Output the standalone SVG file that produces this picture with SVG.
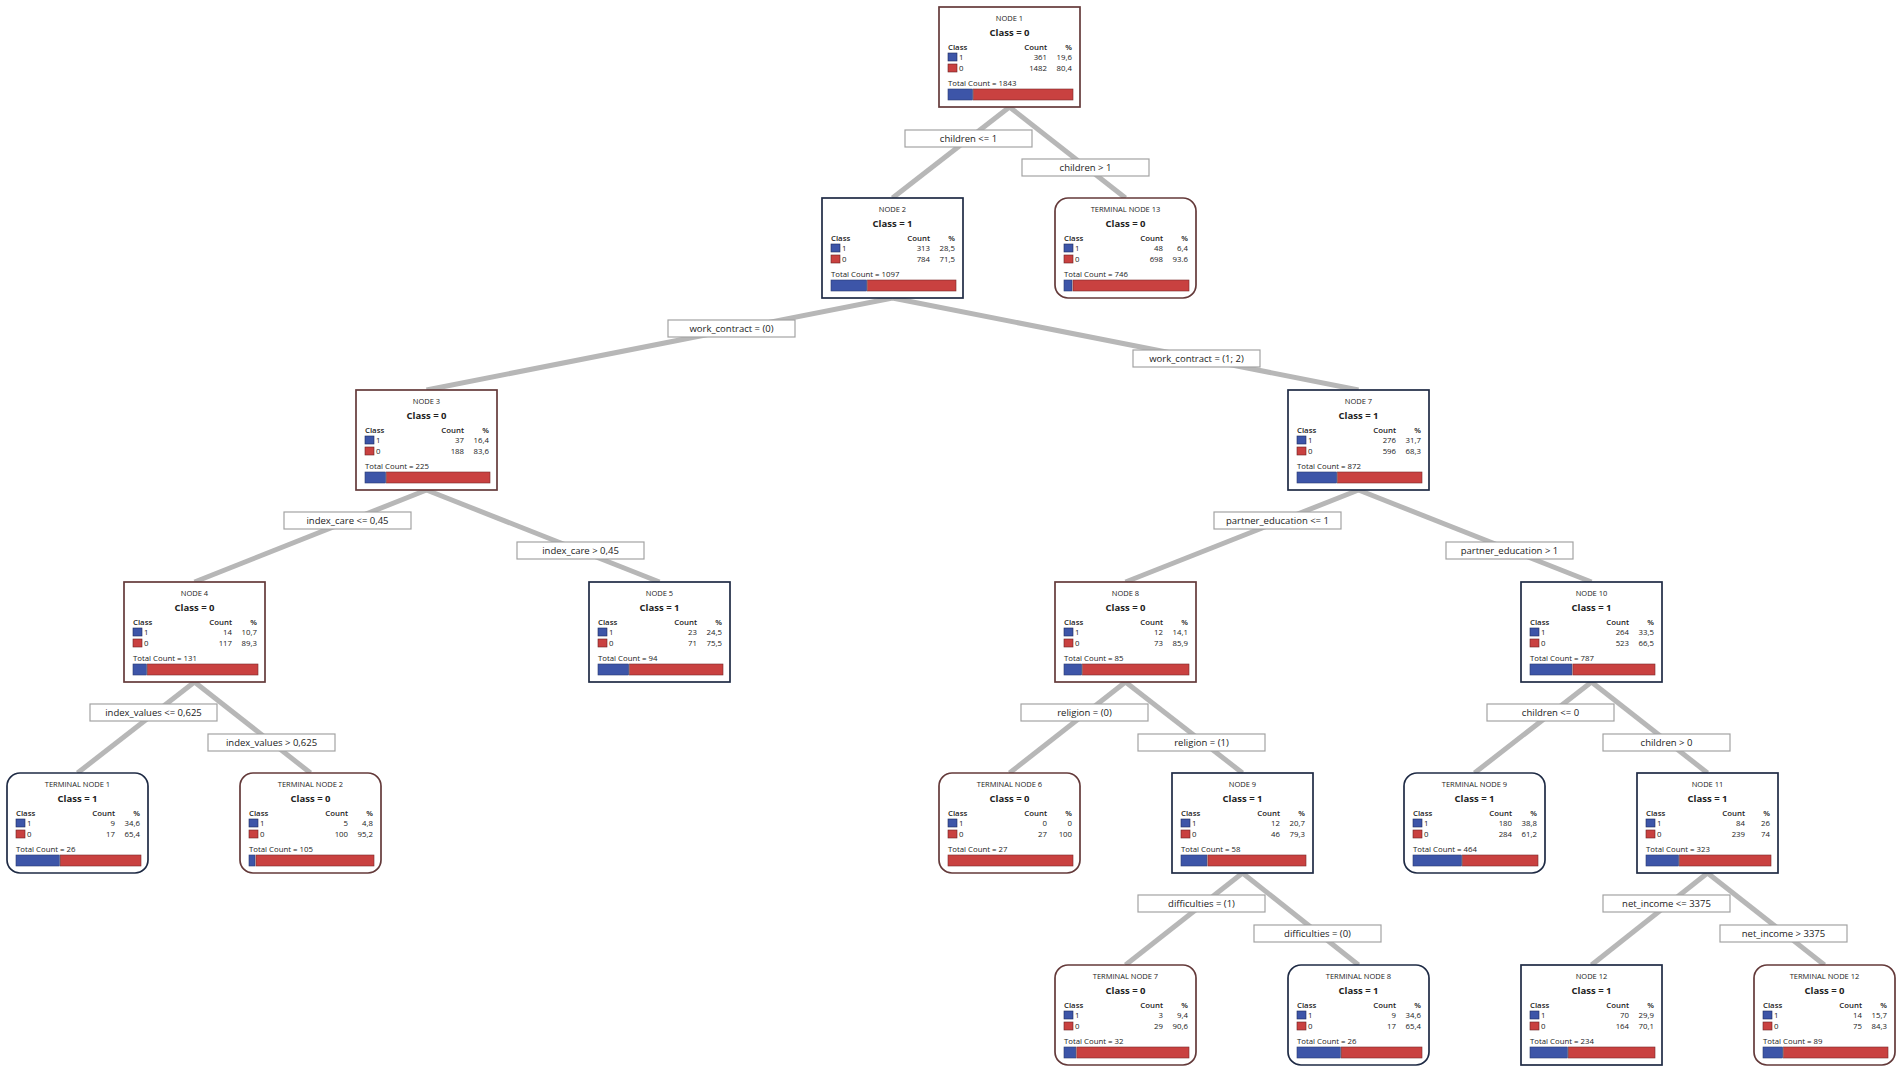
<svg xmlns="http://www.w3.org/2000/svg" width="1902" height="1072" viewBox="0 0 1902 1072">
<style>
text{font-family:"Open Sans","Noto Sans","DejaVu Sans",sans-serif;fill:#222}
.box{fill:#fff;stroke-width:1.7}
.c0{stroke:#643a3a}
.c1{stroke:#1f2b45}
.nm{font-size:7.5px;text-anchor:middle}
.cl{font-size:9.5px;font-weight:700;text-anchor:middle}
.t{font-size:7.8px}
.h{font-weight:600}
.r{text-anchor:end}
.sb{fill:#3d55a8;stroke:#1d2a5a;stroke-width:0.6}
.sr{fill:#c94140;stroke:#6a2020;stroke-width:0.6}
.bb{fill:#3d55a8;stroke:#2a3a70;stroke-width:0.6}
.br{fill:#c94140;stroke:#7a2a2a;stroke-width:0.6}
.ln{stroke:#b7b7b7;stroke-width:5;stroke-linecap:butt}
.lb{fill:#fff;stroke:#a3a3a3;stroke-width:1.2}
.lt{font-size:9.5px;text-anchor:middle}
</style>
<g id="connectors">
<line class="ln" x1="1009.5" y1="107" x2="892.5" y2="198"/>
<line class="ln" x1="1009.5" y1="107" x2="1125.5" y2="198"/>
<line class="ln" x1="892.5" y1="298" x2="426.5" y2="390"/>
<line class="ln" x1="892.5" y1="298" x2="1358.5" y2="390"/>
<line class="ln" x1="426.5" y1="490" x2="194.5" y2="582"/>
<line class="ln" x1="426.5" y1="490" x2="659.5" y2="582"/>
<line class="ln" x1="1358.5" y1="490" x2="1125.5" y2="582"/>
<line class="ln" x1="1358.5" y1="490" x2="1591.5" y2="582"/>
<line class="ln" x1="194.5" y1="682" x2="77.5" y2="773"/>
<line class="ln" x1="194.5" y1="682" x2="310.5" y2="773"/>
<line class="ln" x1="1125.5" y1="682" x2="1009.5" y2="773"/>
<line class="ln" x1="1125.5" y1="682" x2="1242.5" y2="773"/>
<line class="ln" x1="1591.5" y1="682" x2="1474.5" y2="773"/>
<line class="ln" x1="1591.5" y1="682" x2="1707.5" y2="773"/>
<line class="ln" x1="1242.5" y1="873" x2="1125.5" y2="965"/>
<line class="ln" x1="1242.5" y1="873" x2="1358.5" y2="965"/>
<line class="ln" x1="1707.5" y1="873" x2="1591.5" y2="965"/>
<line class="ln" x1="1707.5" y1="873" x2="1824.5" y2="965"/>

<rect class="lb" x="905" y="130" width="127" height="17"/><text class="lt" x="968.5" y="142">children &lt;= 1</text>
<rect class="lb" x="1022" y="159" width="127" height="17"/><text class="lt" x="1085.5" y="171">children &gt; 1</text>
<rect class="lb" x="668" y="320" width="127" height="17"/><text class="lt" x="731.5" y="332">work_contract = (0)</text>
<rect class="lb" x="1133" y="350" width="127" height="17"/><text class="lt" x="1196.5" y="362">work_contract = (1; 2)</text>
<rect class="lb" x="284" y="512" width="127" height="17"/><text class="lt" x="347.5" y="524">index_care &lt;= 0,45</text>
<rect class="lb" x="517" y="542" width="127" height="17"/><text class="lt" x="580.5" y="554">index_care &gt; 0,45</text>
<rect class="lb" x="1214" y="512" width="127" height="17"/><text class="lt" x="1277.5" y="524">partner_education &lt;= 1</text>
<rect class="lb" x="1446" y="542" width="127" height="17"/><text class="lt" x="1509.5" y="554">partner_education &gt; 1</text>
<rect class="lb" x="90" y="704" width="127" height="17"/><text class="lt" x="153.5" y="716">index_values &lt;= 0,625</text>
<rect class="lb" x="208" y="734" width="127" height="17"/><text class="lt" x="271.5" y="746">index_values &gt; 0,625</text>
<rect class="lb" x="1021" y="704" width="127" height="17"/><text class="lt" x="1084.5" y="716">religion = (0)</text>
<rect class="lb" x="1138" y="734" width="127" height="17"/><text class="lt" x="1201.5" y="746">religion = (1)</text>
<rect class="lb" x="1487" y="704" width="127" height="17"/><text class="lt" x="1550.5" y="716">children &lt;= 0</text>
<rect class="lb" x="1603" y="734" width="127" height="17"/><text class="lt" x="1666.5" y="746">children &gt; 0</text>
<rect class="lb" x="1138" y="895" width="127" height="17"/><text class="lt" x="1201.5" y="907">difficulties = (1)</text>
<rect class="lb" x="1254" y="925" width="127" height="17"/><text class="lt" x="1317.5" y="937">difficulties = (0)</text>
<rect class="lb" x="1603" y="895" width="127" height="17"/><text class="lt" x="1666.5" y="907">net_income &lt;= 3375</text>
<rect class="lb" x="1720" y="925" width="127" height="17"/><text class="lt" x="1783.5" y="937">net_income &gt; 3375</text>
</g>

<g id="node1" transform="translate(939,7)">
<rect class="box c0" width="141" height="100"/>
<text class="nm" x="70.5" y="14">NODE 1</text><text class="cl" x="70.5" y="29">Class = 0</text>
<text class="t h" x="9" y="43">Class</text><text class="t h r" x="108" y="43">Count</text><text class="t h r" x="133" y="43">%</text>
<rect class="sb" x="9" y="46" width="9" height="8"/><text class="t" x="20" y="53">1</text><text class="t r" x="108" y="53">361</text><text class="t r" x="133" y="53">19,6</text>
<rect class="sr" x="9" y="57" width="9" height="8"/><text class="t" x="20" y="64">0</text><text class="t r" x="108" y="64">1482</text><text class="t r" x="133" y="64">80,4</text>
<text class="t" x="9" y="79">Total Count = 1843</text>
<rect class="bb" x="9" y="82" width="24.5" height="11"/><rect class="br" x="34.5" y="82" width="99.5" height="11"/>
</g>

<g id="node2" transform="translate(822,198)">
<rect class="box c1" width="141" height="100"/>
<text class="nm" x="70.5" y="14">NODE 2</text><text class="cl" x="70.5" y="29">Class = 1</text>
<text class="t h" x="9" y="43">Class</text><text class="t h r" x="108" y="43">Count</text><text class="t h r" x="133" y="43">%</text>
<rect class="sb" x="9" y="46" width="9" height="8"/><text class="t" x="20" y="53">1</text><text class="t r" x="108" y="53">313</text><text class="t r" x="133" y="53">28,5</text>
<rect class="sr" x="9" y="57" width="9" height="8"/><text class="t" x="20" y="64">0</text><text class="t r" x="108" y="64">784</text><text class="t r" x="133" y="64">71,5</text>
<text class="t" x="9" y="79">Total Count = 1097</text>
<rect class="bb" x="9" y="82" width="35.6" height="11"/><rect class="br" x="45.6" y="82" width="88.4" height="11"/>
</g>

<g id="terminal13" transform="translate(1055,198)">
<rect class="box c0" width="141" height="100" rx="13"/>
<text class="nm" x="70.5" y="14">TERMINAL NODE 13</text><text class="cl" x="70.5" y="29">Class = 0</text>
<text class="t h" x="9" y="43">Class</text><text class="t h r" x="108" y="43">Count</text><text class="t h r" x="133" y="43">%</text>
<rect class="sb" x="9" y="46" width="9" height="8"/><text class="t" x="20" y="53">1</text><text class="t r" x="108" y="53">48</text><text class="t r" x="133" y="53">6,4</text>
<rect class="sr" x="9" y="57" width="9" height="8"/><text class="t" x="20" y="64">0</text><text class="t r" x="108" y="64">698</text><text class="t r" x="133" y="64">93.6</text>
<text class="t" x="9" y="79">Total Count = 746</text>
<rect class="bb" x="9" y="82" width="8" height="11"/><rect class="br" x="18" y="82" width="116" height="11"/>
</g>

<g id="node3" transform="translate(356,390)">
<rect class="box c0" width="141" height="100"/>
<text class="nm" x="70.5" y="14">NODE 3</text><text class="cl" x="70.5" y="29">Class = 0</text>
<text class="t h" x="9" y="43">Class</text><text class="t h r" x="108" y="43">Count</text><text class="t h r" x="133" y="43">%</text>
<rect class="sb" x="9" y="46" width="9" height="8"/><text class="t" x="20" y="53">1</text><text class="t r" x="108" y="53">37</text><text class="t r" x="133" y="53">16,4</text>
<rect class="sr" x="9" y="57" width="9" height="8"/><text class="t" x="20" y="64">0</text><text class="t r" x="108" y="64">188</text><text class="t r" x="133" y="64">83,6</text>
<text class="t" x="9" y="79">Total Count = 225</text>
<rect class="bb" x="9" y="82" width="20.5" height="11"/><rect class="br" x="30.5" y="82" width="103.5" height="11"/>
</g>

<g id="node7" transform="translate(1288,390)">
<rect class="box c1" width="141" height="100"/>
<text class="nm" x="70.5" y="14">NODE 7</text><text class="cl" x="70.5" y="29">Class = 1</text>
<text class="t h" x="9" y="43">Class</text><text class="t h r" x="108" y="43">Count</text><text class="t h r" x="133" y="43">%</text>
<rect class="sb" x="9" y="46" width="9" height="8"/><text class="t" x="20" y="53">1</text><text class="t r" x="108" y="53">276</text><text class="t r" x="133" y="53">31,7</text>
<rect class="sr" x="9" y="57" width="9" height="8"/><text class="t" x="20" y="64">0</text><text class="t r" x="108" y="64">596</text><text class="t r" x="133" y="64">68,3</text>
<text class="t" x="9" y="79">Total Count = 872</text>
<rect class="bb" x="9" y="82" width="39.6" height="11"/><rect class="br" x="49.6" y="82" width="84.4" height="11"/>
</g>

<g id="node4" transform="translate(124,582)">
<rect class="box c0" width="141" height="100"/>
<text class="nm" x="70.5" y="14">NODE 4</text><text class="cl" x="70.5" y="29">Class = 0</text>
<text class="t h" x="9" y="43">Class</text><text class="t h r" x="108" y="43">Count</text><text class="t h r" x="133" y="43">%</text>
<rect class="sb" x="9" y="46" width="9" height="8"/><text class="t" x="20" y="53">1</text><text class="t r" x="108" y="53">14</text><text class="t r" x="133" y="53">10,7</text>
<rect class="sr" x="9" y="57" width="9" height="8"/><text class="t" x="20" y="64">0</text><text class="t r" x="108" y="64">117</text><text class="t r" x="133" y="64">89,3</text>
<text class="t" x="9" y="79">Total Count = 131</text>
<rect class="bb" x="9" y="82" width="13.4" height="11"/><rect class="br" x="23.4" y="82" width="110.6" height="11"/>
</g>

<g id="node5" transform="translate(589,582)">
<rect class="box c1" width="141" height="100"/>
<text class="nm" x="70.5" y="14">NODE 5</text><text class="cl" x="70.5" y="29">Class = 1</text>
<text class="t h" x="9" y="43">Class</text><text class="t h r" x="108" y="43">Count</text><text class="t h r" x="133" y="43">%</text>
<rect class="sb" x="9" y="46" width="9" height="8"/><text class="t" x="20" y="53">1</text><text class="t r" x="108" y="53">23</text><text class="t r" x="133" y="53">24,5</text>
<rect class="sr" x="9" y="57" width="9" height="8"/><text class="t" x="20" y="64">0</text><text class="t r" x="108" y="64">71</text><text class="t r" x="133" y="64">75,5</text>
<text class="t" x="9" y="79">Total Count = 94</text>
<rect class="bb" x="9" y="82" width="30.6" height="11"/><rect class="br" x="40.6" y="82" width="93.4" height="11"/>
</g>

<g id="node8" transform="translate(1055,582)">
<rect class="box c0" width="141" height="100"/>
<text class="nm" x="70.5" y="14">NODE 8</text><text class="cl" x="70.5" y="29">Class = 0</text>
<text class="t h" x="9" y="43">Class</text><text class="t h r" x="108" y="43">Count</text><text class="t h r" x="133" y="43">%</text>
<rect class="sb" x="9" y="46" width="9" height="8"/><text class="t" x="20" y="53">1</text><text class="t r" x="108" y="53">12</text><text class="t r" x="133" y="53">14,1</text>
<rect class="sr" x="9" y="57" width="9" height="8"/><text class="t" x="20" y="64">0</text><text class="t r" x="108" y="64">73</text><text class="t r" x="133" y="64">85,9</text>
<text class="t" x="9" y="79">Total Count = 85</text>
<rect class="bb" x="9" y="82" width="17.6" height="11"/><rect class="br" x="27.6" y="82" width="106.4" height="11"/>
</g>

<g id="node10" transform="translate(1521,582)">
<rect class="box c1" width="141" height="100"/>
<text class="nm" x="70.5" y="14">NODE 10</text><text class="cl" x="70.5" y="29">Class = 1</text>
<text class="t h" x="9" y="43">Class</text><text class="t h r" x="108" y="43">Count</text><text class="t h r" x="133" y="43">%</text>
<rect class="sb" x="9" y="46" width="9" height="8"/><text class="t" x="20" y="53">1</text><text class="t r" x="108" y="53">264</text><text class="t r" x="133" y="53">33,5</text>
<rect class="sr" x="9" y="57" width="9" height="8"/><text class="t" x="20" y="64">0</text><text class="t r" x="108" y="64">523</text><text class="t r" x="133" y="64">66,5</text>
<text class="t" x="9" y="79">Total Count = 787</text>
<rect class="bb" x="9" y="82" width="41.9" height="11"/><rect class="br" x="51.9" y="82" width="82.1" height="11"/>
</g>

<g id="terminal1" transform="translate(7,773)">
<rect class="box c1" width="141" height="100" rx="13"/>
<text class="nm" x="70.5" y="14">TERMINAL NODE 1</text><text class="cl" x="70.5" y="29">Class = 1</text>
<text class="t h" x="9" y="43">Class</text><text class="t h r" x="108" y="43">Count</text><text class="t h r" x="133" y="43">%</text>
<rect class="sb" x="9" y="46" width="9" height="8"/><text class="t" x="20" y="53">1</text><text class="t r" x="108" y="53">9</text><text class="t r" x="133" y="53">34,6</text>
<rect class="sr" x="9" y="57" width="9" height="8"/><text class="t" x="20" y="64">0</text><text class="t r" x="108" y="64">17</text><text class="t r" x="133" y="64">65,4</text>
<text class="t" x="9" y="79">Total Count = 26</text>
<rect class="bb" x="9" y="82" width="43.3" height="11"/><rect class="br" x="53.3" y="82" width="80.7" height="11"/>
</g>

<g id="terminal2" transform="translate(240,773)">
<rect class="box c0" width="141" height="100" rx="13"/>
<text class="nm" x="70.5" y="14">TERMINAL NODE 2</text><text class="cl" x="70.5" y="29">Class = 0</text>
<text class="t h" x="9" y="43">Class</text><text class="t h r" x="108" y="43">Count</text><text class="t h r" x="133" y="43">%</text>
<rect class="sb" x="9" y="46" width="9" height="8"/><text class="t" x="20" y="53">1</text><text class="t r" x="108" y="53">5</text><text class="t r" x="133" y="53">4,8</text>
<rect class="sr" x="9" y="57" width="9" height="8"/><text class="t" x="20" y="64">0</text><text class="t r" x="108" y="64">100</text><text class="t r" x="133" y="64">95,2</text>
<text class="t" x="9" y="79">Total Count = 105</text>
<rect class="bb" x="9" y="82" width="6" height="11"/><rect class="br" x="16" y="82" width="118" height="11"/>
</g>

<g id="terminal6" transform="translate(939,773)">
<rect class="box c0" width="141" height="100" rx="13"/>
<text class="nm" x="70.5" y="14">TERMINAL NODE 6</text><text class="cl" x="70.5" y="29">Class = 0</text>
<text class="t h" x="9" y="43">Class</text><text class="t h r" x="108" y="43">Count</text><text class="t h r" x="133" y="43">%</text>
<rect class="sb" x="9" y="46" width="9" height="8"/><text class="t" x="20" y="53">1</text><text class="t r" x="108" y="53">0</text><text class="t r" x="133" y="53">0</text>
<rect class="sr" x="9" y="57" width="9" height="8"/><text class="t" x="20" y="64">0</text><text class="t r" x="108" y="64">27</text><text class="t r" x="133" y="64">100</text>
<text class="t" x="9" y="79">Total Count = 27</text>
<rect class="br" x="9" y="82" width="125" height="11"/>
</g>

<g id="node9" transform="translate(1172,773)">
<rect class="box c1" width="141" height="100"/>
<text class="nm" x="70.5" y="14">NODE 9</text><text class="cl" x="70.5" y="29">Class = 1</text>
<text class="t h" x="9" y="43">Class</text><text class="t h r" x="108" y="43">Count</text><text class="t h r" x="133" y="43">%</text>
<rect class="sb" x="9" y="46" width="9" height="8"/><text class="t" x="20" y="53">1</text><text class="t r" x="108" y="53">12</text><text class="t r" x="133" y="53">20,7</text>
<rect class="sr" x="9" y="57" width="9" height="8"/><text class="t" x="20" y="64">0</text><text class="t r" x="108" y="64">46</text><text class="t r" x="133" y="64">79,3</text>
<text class="t" x="9" y="79">Total Count = 58</text>
<rect class="bb" x="9" y="82" width="25.9" height="11"/><rect class="br" x="35.9" y="82" width="98.1" height="11"/>
</g>

<g id="terminal9" transform="translate(1404,773)">
<rect class="box c1" width="141" height="100" rx="13"/>
<text class="nm" x="70.5" y="14">TERMINAL NODE 9</text><text class="cl" x="70.5" y="29">Class = 1</text>
<text class="t h" x="9" y="43">Class</text><text class="t h r" x="108" y="43">Count</text><text class="t h r" x="133" y="43">%</text>
<rect class="sb" x="9" y="46" width="9" height="8"/><text class="t" x="20" y="53">1</text><text class="t r" x="108" y="53">180</text><text class="t r" x="133" y="53">38,8</text>
<rect class="sr" x="9" y="57" width="9" height="8"/><text class="t" x="20" y="64">0</text><text class="t r" x="108" y="64">284</text><text class="t r" x="133" y="64">61,2</text>
<text class="t" x="9" y="79">Total Count = 464</text>
<rect class="bb" x="9" y="82" width="48.5" height="11"/><rect class="br" x="58.5" y="82" width="75.5" height="11"/>
</g>

<g id="node11" transform="translate(1637,773)">
<rect class="box c1" width="141" height="100"/>
<text class="nm" x="70.5" y="14">NODE 11</text><text class="cl" x="70.5" y="29">Class = 1</text>
<text class="t h" x="9" y="43">Class</text><text class="t h r" x="108" y="43">Count</text><text class="t h r" x="133" y="43">%</text>
<rect class="sb" x="9" y="46" width="9" height="8"/><text class="t" x="20" y="53">1</text><text class="t r" x="108" y="53">84</text><text class="t r" x="133" y="53">26</text>
<rect class="sr" x="9" y="57" width="9" height="8"/><text class="t" x="20" y="64">0</text><text class="t r" x="108" y="64">239</text><text class="t r" x="133" y="64">74</text>
<text class="t" x="9" y="79">Total Count = 323</text>
<rect class="bb" x="9" y="82" width="32.5" height="11"/><rect class="br" x="42.5" y="82" width="91.5" height="11"/>
</g>

<g id="terminal7" transform="translate(1055,965)">
<rect class="box c0" width="141" height="100" rx="13"/>
<text class="nm" x="70.5" y="14">TERMINAL NODE 7</text><text class="cl" x="70.5" y="29">Class = 0</text>
<text class="t h" x="9" y="43">Class</text><text class="t h r" x="108" y="43">Count</text><text class="t h r" x="133" y="43">%</text>
<rect class="sb" x="9" y="46" width="9" height="8"/><text class="t" x="20" y="53">1</text><text class="t r" x="108" y="53">3</text><text class="t r" x="133" y="53">9,4</text>
<rect class="sr" x="9" y="57" width="9" height="8"/><text class="t" x="20" y="64">0</text><text class="t r" x="108" y="64">29</text><text class="t r" x="133" y="64">90,6</text>
<text class="t" x="9" y="79">Total Count = 32</text>
<rect class="bb" x="9" y="82" width="11.8" height="11"/><rect class="br" x="21.8" y="82" width="112.2" height="11"/>
</g>

<g id="terminal8" transform="translate(1288,965)">
<rect class="box c1" width="141" height="100" rx="13"/>
<text class="nm" x="70.5" y="14">TERMINAL NODE 8</text><text class="cl" x="70.5" y="29">Class = 1</text>
<text class="t h" x="9" y="43">Class</text><text class="t h r" x="108" y="43">Count</text><text class="t h r" x="133" y="43">%</text>
<rect class="sb" x="9" y="46" width="9" height="8"/><text class="t" x="20" y="53">1</text><text class="t r" x="108" y="53">9</text><text class="t r" x="133" y="53">34,6</text>
<rect class="sr" x="9" y="57" width="9" height="8"/><text class="t" x="20" y="64">0</text><text class="t r" x="108" y="64">17</text><text class="t r" x="133" y="64">65,4</text>
<text class="t" x="9" y="79">Total Count = 26</text>
<rect class="bb" x="9" y="82" width="43.3" height="11"/><rect class="br" x="53.3" y="82" width="80.7" height="11"/>
</g>

<g id="node12" transform="translate(1521,965)">
<rect class="box c1" width="141" height="100"/>
<text class="nm" x="70.5" y="14">NODE 12</text><text class="cl" x="70.5" y="29">Class = 1</text>
<text class="t h" x="9" y="43">Class</text><text class="t h r" x="108" y="43">Count</text><text class="t h r" x="133" y="43">%</text>
<rect class="sb" x="9" y="46" width="9" height="8"/><text class="t" x="20" y="53">1</text><text class="t r" x="108" y="53">70</text><text class="t r" x="133" y="53">29,9</text>
<rect class="sr" x="9" y="57" width="9" height="8"/><text class="t" x="20" y="64">0</text><text class="t r" x="108" y="64">164</text><text class="t r" x="133" y="64">70,1</text>
<text class="t" x="9" y="79">Total Count = 234</text>
<rect class="bb" x="9" y="82" width="37.4" height="11"/><rect class="br" x="47.4" y="82" width="86.6" height="11"/>
</g>

<g id="terminal12" transform="translate(1754,965)">
<rect class="box c0" width="141" height="100" rx="13"/>
<text class="nm" x="70.5" y="14">TERMINAL NODE 12</text><text class="cl" x="70.5" y="29">Class = 0</text>
<text class="t h" x="9" y="43">Class</text><text class="t h r" x="108" y="43">Count</text><text class="t h r" x="133" y="43">%</text>
<rect class="sb" x="9" y="46" width="9" height="8"/><text class="t" x="20" y="53">1</text><text class="t r" x="108" y="53">14</text><text class="t r" x="133" y="53">15,7</text>
<rect class="sr" x="9" y="57" width="9" height="8"/><text class="t" x="20" y="64">0</text><text class="t r" x="108" y="64">75</text><text class="t r" x="133" y="64">84,3</text>
<text class="t" x="9" y="79">Total Count = 89</text>
<rect class="bb" x="9" y="82" width="19.6" height="11"/><rect class="br" x="29.6" y="82" width="104.4" height="11"/>
</g>
</svg>
